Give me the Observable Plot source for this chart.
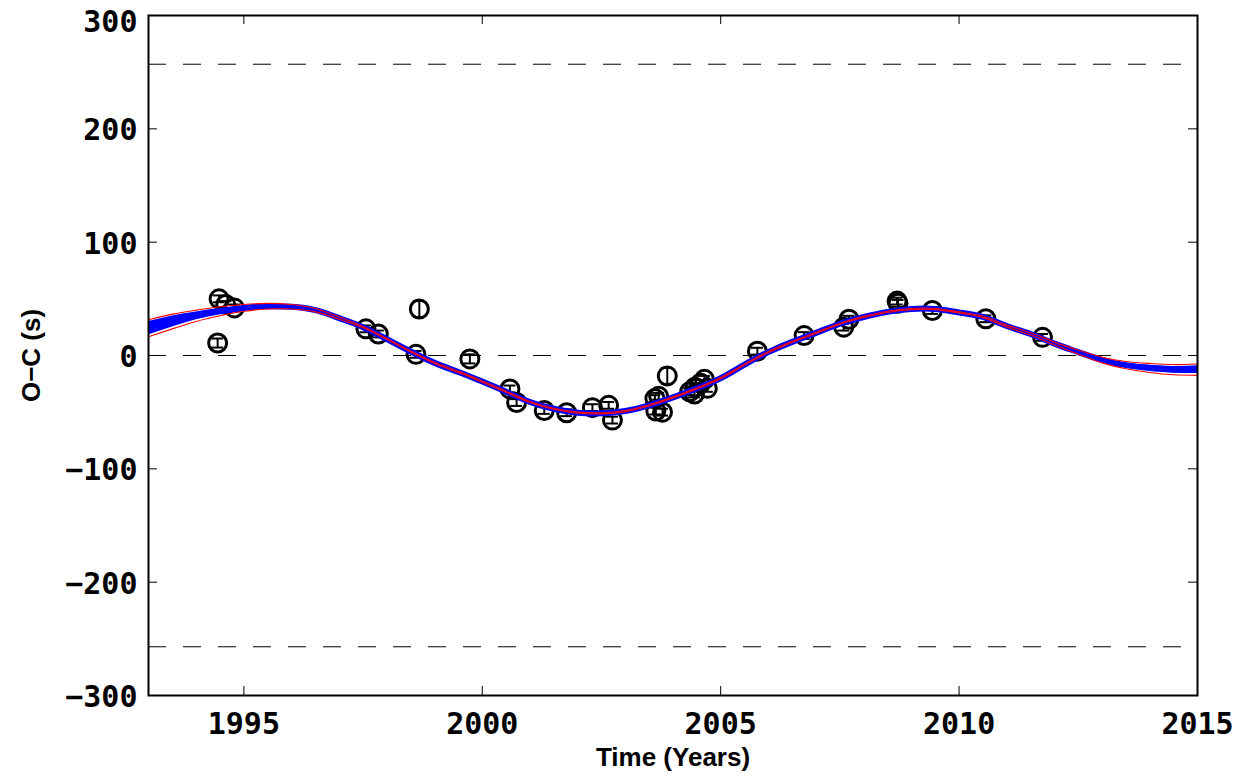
<!DOCTYPE html>
<html>
<head>
<meta charset="utf-8">
<script src="https://cdn.jsdelivr.net/npm/d3@7"></script>
<script src="https://cdn.jsdelivr.net/npm/@observablehq/plot@0.6"></script>
<style>
  html, body { margin: 0; padding: 0; background: #fff; }
</style>
</head>
<body>
<div id="chart"></div>
<script>
// ---- data ----
const curveYears = [1993, 1993.5, 1994, 1994.5, 1995, 1995.5, 1996, 1996.5, 1997, 1997.5, 1998, 1998.5, 1999, 1999.5, 2000, 2000.5, 2001, 2001.5, 2002, 2002.5, 2003, 2003.5, 2004, 2004.5, 2005, 2005.5, 2006, 2006.5, 2007, 2007.5, 2008, 2008.5, 2009, 2009.5, 2010, 2010.5, 2011, 2011.5, 2012, 2012.5, 2013, 2013.5, 2014, 2014.5, 2015];
const curveOC = [24, 30, 35, 39, 42, 43.5, 43, 40, 33, 25, 14.5, 3.5, -6.5, -14.5, -23, -32, -41, -47, -50.5, -51, -49, -44, -37, -29, -20, -8, 3, 12, 20, 28, 34, 38.5, 41, 41, 38, 34, 26, 19, 10.5, 3, -4, -8.5, -11, -12.5, -12.5];
const curveHalfWidth = [7.5, 6.5, 5, 4, 3, 2.5, 2, 1.5, 1, 0.6, 0.5, 0.5, 0.5, 0.5, 0.5, 0.5, 0.5, 0.5, 0.5, 0.5, 0.5, 0.5, 0.5, 0.5, 0.5, 0.5, 0.5, 0.5, 0.5, 0.5, 0.5, 0.5, 0.5, 0.5, 0.5, 0.6, 0.8, 1, 1.3, 1.8, 2.5, 3.2, 4, 4.5, 5];

const pointYears = [1994.45, 1994.48, 1994.62, 1994.80, 1997.56, 1997.82, 1998.61, 1998.68, 1999.74, 2000.58, 2000.72, 2001.30, 2001.77, 2002.31, 2002.65, 2002.73, 2003.62, 2003.70, 2003.64, 2003.78, 2003.88, 2004.35, 2004.45, 2004.46, 2004.58, 2004.66, 2004.72, 2005.77, 2006.75, 2007.58, 2007.69, 2008.70, 2008.72, 2009.44, 2010.56, 2011.75];
const pointOC = [11, 50, 45, 42, 23.5, 19, 1, 41, -3, -29.5, -41.5, -48.5, -50.5, -46, -44, -57, -38, -36, -49, -50, -18, -32, -34, -28, -24.5, -21, -29, 3.8, 17.6, 25, 32, 48, 46, 39.7, 32.4, 16];
const pointErr = [4, 3, 3, 3, 3, 3, 3, 7, 4, 3, 3, 3, 3, 3, 3, 3, 3, 3, 3, 3, 7, 3, 3, 3, 3, 3, 3, 3, 3, 3, 3, 3, 3, 3, 3, 3];

const xTicks = [1995, 2000, 2005, 2010, 2015];
const yTicks = [-300, -200, -100, 0, 100, 200, 300];
const dashLevels = [257, 0, -257];

// ---- layout ----
const W = 1252, H = 777;
const mL = 148, mR = 55, mT = 15, mB = 82;
const xDom = [1993, 2015], yDom = [-300, 300];
const pxX = (W - mL - mR) / (xDom[1] - xDom[0]);
const pxY = (H - mT - mB) / (yDom[1] - yDom[0]);
const tickLen = 9;
const tx = tickLen / pxX, ty = tickLen / pxY;
const capHalf = 6 / pxX;

const curve = curveYears.map((t, i) => {
  const c = curveOC[i], h = curveHalfWidth[i];
  const b = Math.max(h - 1.6, 0);
  return {t, c, rlo: c - h, rhi: c + h, blo: c - b, bhi: c + b};
});
const points = pointYears.map((t, i) => ({t, oc: pointOC[i], err: pointErr[i]}));

const fmt = d => d < 0 ? "\u2212" + Math.abs(d) : String(d);
const yTop = yTicks.filter(d => d === yDom[1]);
const yRest = yTicks.filter(d => d !== yDom[1]);
const tickFont = {fontSize: 30, fontWeight: "bold", fontFamily: "DejaVu Sans Mono"};

const chart = Plot.plot({
  width: W, height: H,
  marginLeft: mL, marginRight: mR, marginTop: mT, marginBottom: mB,
  x: {domain: xDom},
  y: {domain: yDom},
  style: {fontFamily: "DejaVu Sans Mono", fontWeight: "bold", background: "white", color: "black"},
  marks: [
    Plot.ruleY(dashLevels, {y: d => d, stroke: "black", strokeWidth: 1, strokeDasharray: "18,17"}),
    // points with error bars
    Plot.ruleX(points, {x: "t", y1: d => d.oc - d.err, y2: d => d.oc + d.err, stroke: "black", strokeWidth: 2}),
    Plot.ruleY(points, {y: d => d.oc + d.err, x1: d => d.t - capHalf, x2: d => d.t + capHalf, stroke: "black", strokeWidth: 2}),
    Plot.ruleY(points, {y: d => d.oc - d.err, x1: d => d.t - capHalf, x2: d => d.t + capHalf, stroke: "black", strokeWidth: 2}),
    Plot.dot(points, {x: "t", y: "oc", r: 9, stroke: "black", strokeWidth: 3, fill: "none"}),
    // model band
    Plot.areaY(curve, {x: "t", y1: "blo", y2: "bhi", fill: "#0000ff", curve: "natural", clip: true}),
    Plot.line(curve, {x: "t", y: "c", stroke: "#0000ff", strokeWidth: 6, curve: "natural", clip: true}),
    Plot.line(curve, {x: "t", y: "rlo", stroke: "#ff0000", strokeWidth: 1.1, curve: "natural", clip: true}),
    Plot.line(curve, {x: "t", y: "rhi", stroke: "#ff0000", strokeWidth: 1.1, curve: "natural", clip: true}),
    // inward ticks
    Plot.ruleX(xTicks, {x: d => d, y1: yDom[0], y2: yDom[0] + ty, stroke: "black", strokeWidth: 1}),
    Plot.ruleX(xTicks, {x: d => d, y1: yDom[1] - ty, y2: yDom[1], stroke: "black", strokeWidth: 1}),
    Plot.ruleY(yTicks, {y: d => d, x1: xDom[0], x2: xDom[0] + tx, stroke: "black", strokeWidth: 1}),
    Plot.ruleY(yTicks, {y: d => d, x1: xDom[1] - tx, x2: xDom[1], stroke: "black", strokeWidth: 1}),
    Plot.frame({stroke: "black", strokeWidth: 2}),
    // tick labels
    Plot.axisX(xTicks, {anchor: "bottom", tickSize: 0, tickPadding: 17, tickFormat: d => String(d), ...tickFont, label: null}),
    Plot.axisY(yRest, {anchor: "left", tickSize: 0, tickPadding: 11, dy: 2, tickFormat: fmt, ...tickFont, label: null}),
    Plot.axisY(yTop, {anchor: "left", tickSize: 0, tickPadding: 11, dy: 7, tickFormat: fmt, ...tickFont, label: null}),
    // axis titles
    Plot.text(["Time (Years)"], {frameAnchor: "bottom", dy: 62, lineAnchor: "middle", textAnchor: "middle", text: d => d, fontSize: 26, fontWeight: "bold", fontFamily: "Liberation Sans", fill: "black"}),
    Plot.text(["O\u2212C (s)"], {frameAnchor: "left", dx: -117, rotate: -90, textAnchor: "middle", lineAnchor: "middle", text: d => d, fontSize: 26, fontWeight: "bold", fontFamily: "Liberation Sans", fill: "black"})
  ]
});
document.getElementById("chart").appendChild(chart);
</script>
</body>
</html>
